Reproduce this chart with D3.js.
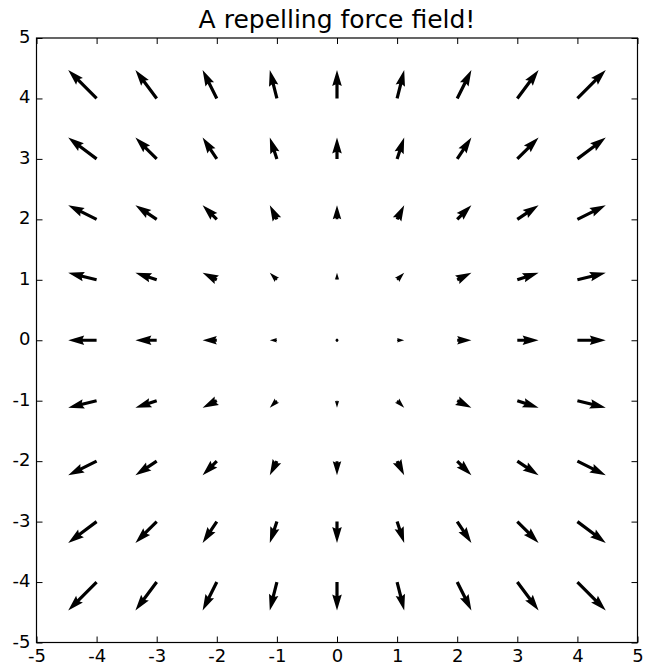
<!DOCTYPE html>
<html><head><meta charset="utf-8">
<script src="https://cdn.jsdelivr.net/npm/d3@7"></script>
<style>html,body{margin:0;padding:0;background:#fff;}svg{display:block;font-family:"DejaVu Sans",sans-serif;}</style>
</head><body>
<script>
// Grid positions
const xGrid = [-4, -3, -2, -1, 0, 1, 2, 3, 4];
const yGrid = [-4, -3, -2, -1, 0, 1, 2, 3, 4];
// U component, rows = yGrid, columns = xGrid
const U = [
  [-4, -3, -2, -1, 0, 1, 2, 3, 4],
  [-4, -3, -2, -1, 0, 1, 2, 3, 4],
  [-4, -3, -2, -1, 0, 1, 2, 3, 4],
  [-4, -3, -2, -1, 0, 1, 2, 3, 4],
  [-4, -3, -2, -1, 0, 1, 2, 3, 4],
  [-4, -3, -2, -1, 0, 1, 2, 3, 4],
  [-4, -3, -2, -1, 0, 1, 2, 3, 4],
  [-4, -3, -2, -1, 0, 1, 2, 3, 4],
  [-4, -3, -2, -1, 0, 1, 2, 3, 4]
];
// V component, rows = yGrid, columns = xGrid
const V = [
  [-4, -4, -4, -4, -4, -4, -4, -4, -4],
  [-3, -3, -3, -3, -3, -3, -3, -3, -3],
  [-2, -2, -2, -2, -2, -2, -2, -2, -2],
  [-1, -1, -1, -1, -1, -1, -1, -1, -1],
  [0, 0, 0, 0, 0, 0, 0, 0, 0],
  [1, 1, 1, 1, 1, 1, 1, 1, 1],
  [2, 2, 2, 2, 2, 2, 2, 2, 2],
  [3, 3, 3, 3, 3, 3, 3, 3, 3],
  [4, 4, 4, 4, 4, 4, 4, 4, 4]
];
const xTicks = [-5, -4, -3, -2, -1, 0, 1, 2, 3, 4, 5];
const yTicks = [-5, -4, -3, -2, -1, 0, 1, 2, 3, 4, 5];
const titleText = "A repelling force field!";

const W = 647, H = 667;
const mLeft = 36.5, mRight = 637.5, mTop = 38, mBottom = 642.5;
const x = d3.scaleLinear().domain([-5, 5]).range([mLeft, mRight]);
const y = d3.scaleLinear().domain([-5, 5]).range([mBottom, mTop]);

const svg = d3.select("body").append("svg").attr("width", W).attr("height", H);

// arrows (matplotlib quiver geometry)
const pxPerUnit = 7.1;     // arrow pixel length per vector unit
const sw = 3.2;            // shaft width in px
const headwidth = 3, headlength = 5, headaxislength = 4.5, minshaft = 1, minlength = 1;

function arrowPoly(len) { // len in width units
  const minsh = minshaft * headlength;
  let X, Y;
  if (len < minlength) {
    X = []; Y = [];
    for (let i = 0; i < 8; i++) { const th = i * Math.PI / 3; X.push(Math.cos(th) * minlength * 0.5); Y.push(Math.sin(th) * minlength * 0.5); }
  } else if (len < minsh) {
    const s = len / minsh;
    const x0 = [0, minsh - headaxislength, minsh - headlength, minsh];
    const y0 = [0.5, 0.5, 0.5 * headwidth, 0];
    const ii = [0, 1, 2, 3, 2, 1, 0, 0];
    X = ii.map(i => x0[i] * s);
    Y = ii.map((i, k) => (k >= 3 && k < 7 ? -1 : 1) * y0[i] * s);
  } else {
    const xa = [0, len - headaxislength, len - headlength, len];
    const ya = [0.5, 0.5, 0.5 * headwidth, 0];
    const ii = [0, 1, 2, 3, 2, 1, 0, 0];
    X = ii.map(i => xa[i]);
    Y = ii.map((i, k) => (k >= 3 && k < 7 ? -1 : 1) * ya[i]);
  }
  return X.map((v, i) => [v * sw, Y[i] * sw]);
}

const arrows = [];
yGrid.forEach((yv, r) => xGrid.forEach((xv, c) => arrows.push({x: xv, y: yv, u: U[r][c], v: V[r][c]})));

svg.append("g").selectAll("path").data(arrows).join("path")
  .attr("d", d => {
    const dx = d.u * pxPerUnit, dy = -d.v * pxPerUnit;
    const L = Math.hypot(dx, dy) / sw;
    const ang = Math.atan2(dy, dx);
    const ca = Math.cos(ang), sa = Math.sin(ang);
    const px = x(d.x), py = y(d.y);
    const pts = arrowPoly(L).map(([a, b]) => [px + a * ca - b * sa, py + a * sa + b * ca]);
    return "M" + pts.map(p => p[0].toFixed(2) + "," + p[1].toFixed(2)).join("L") + "Z";
  })
  .attr("fill", "#000").attr("stroke", "none");

// frame
svg.append("rect").attr("x", mLeft).attr("y", mTop).attr("width", mRight - mLeft).attr("height", mBottom - mTop)
  .attr("fill", "none").attr("stroke", "#000").attr("stroke-width", 1.2);

const tickLen = 6;
const fontSize = 18;
const xAxisB = d3.axisBottom(x).tickValues(xTicks).tickSizeInner(-tickLen).tickSizeOuter(0).tickPadding(6.5).tickFormat(d3.format("d"));
const gB = svg.append("g").attr("transform", `translate(0,${mBottom})`).call(xAxisB);
const gT = svg.append("g").attr("transform", `translate(0,${mTop})`).call(d3.axisTop(x).tickValues(xTicks).tickSizeInner(-tickLen).tickSizeOuter(0).tickFormat(""));
const yAxisL = d3.axisLeft(y).tickValues(yTicks).tickSizeInner(-tickLen).tickSizeOuter(0).tickPadding(6).tickFormat(d3.format("d"));
const gL = svg.append("g").attr("transform", `translate(${mLeft},0)`).call(yAxisL);
const gR = svg.append("g").attr("transform", `translate(${mRight},0)`).call(d3.axisRight(y).tickValues(yTicks).tickSizeInner(-tickLen).tickSizeOuter(0).tickFormat(""));
[gB, gT, gL, gR].forEach(g => {
  g.select(".domain").remove();
  g.selectAll(".tick line").attr("stroke", "#000").attr("stroke-width", 1);
  g.selectAll("text").attr("font-family", "DejaVu Sans").attr("font-size", fontSize).attr("fill", "#000");
});
gB.selectAll("text").text(d => d < 0 ? "-" + Math.abs(d) : d);
gL.selectAll("text").attr("dy", "0.25em").text(d => d < 0 ? "-" + Math.abs(d) : d);

svg.append("text").attr("x", (mLeft + mRight) / 2).attr("y", 28).attr("text-anchor", "middle")
  .attr("font-family", "DejaVu Sans").attr("font-size", 25).attr("fill", "#000").text(titleText);
</script>
</body></html>
